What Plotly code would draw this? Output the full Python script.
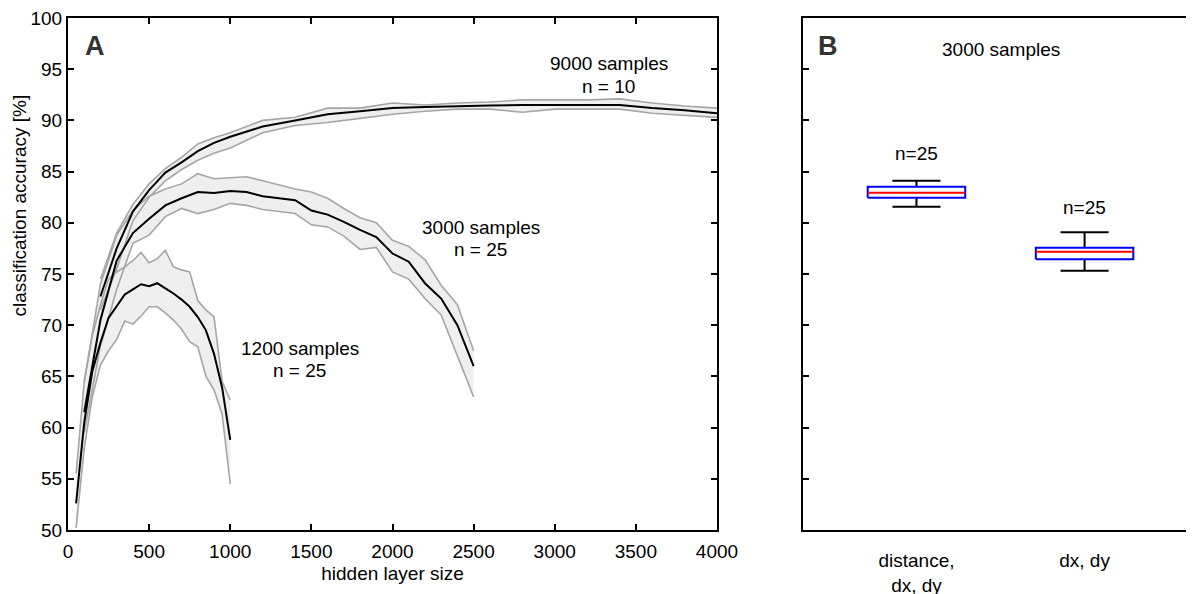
import plotly.graph_objects as go

# ---------------- Panel A data ----------------
x_1200 = [50, 100, 150, 200, 250, 300, 350, 400, 450, 500, 550, 600, 650, 700, 750, 800, 850, 900, 950, 1000]
mean_1200 = [52.6, 60.5, 65.5, 68.3, 70.7, 71.8, 73.0, 73.5, 74.0, 73.8, 74.1, 73.6, 73.1, 72.5, 71.8, 70.8, 69.5, 67.2, 63.9, 58.8]
upper_1200 = [55.5, 64.5, 69.0, 72.0, 74.5, 75.2, 75.7, 76.3, 77.1, 76.1, 76.5, 77.3, 75.7, 75.4, 75.2, 72.4, 71.5, 70.8, 64.5, 62.7]
lower_1200 = [50.2, 58.0, 63.0, 66.1, 67.5, 68.6, 70.4, 70.1, 70.9, 71.8, 71.8, 71.2, 70.5, 69.6, 68.4, 67.9, 65.0, 63.7, 61.3, 54.5]

x_3000 = [100, 200, 300, 400, 500, 600, 700, 800, 900, 1000, 1100, 1200, 1300, 1400, 1500,
          1600, 1700, 1800, 1900, 2000, 2100, 2200, 2300, 2400, 2500]
mean_3000 = [61.5, 70.5, 76.3, 79.0, 80.4, 81.7, 82.4, 83.0, 82.9, 83.1, 83.0, 82.6, 82.4, 82.2, 81.2,
             80.8, 80.1, 79.3, 78.6, 77.0, 76.2, 74.1, 72.6, 70.0, 66.0]
upper_3000 = [64.5, 74.0, 78.8, 81.2, 82.6, 83.3, 83.8, 84.8, 84.3, 84.4, 84.5, 84.1, 83.7, 83.3, 83.0,
              82.4, 81.4, 80.5, 80.0, 78.3, 77.7, 76.4, 73.9, 72.0, 67.5]
lower_3000 = [59.5, 68.0, 73.5, 78.0, 78.8, 80.6, 81.4, 80.9, 81.3, 81.9, 81.7, 81.3, 81.1, 80.9, 79.8,
              79.6, 78.7, 77.4, 77.6, 75.2, 74.5, 72.6, 71.0, 67.0, 63.0]

x_9000 = [200, 300, 400, 500, 600, 700, 800, 900, 1000, 1200, 1400, 1600, 1800, 2000, 2200, 2400,
          2600, 2800, 3000, 3200, 3400, 3600, 3800, 4000]
mean_9000 = [72.8, 77.5, 81.1, 83.2, 84.9, 85.9, 87.0, 87.8, 88.4, 89.4, 90.0, 90.6, 90.9, 91.2, 91.3, 91.4,
             91.45, 91.5, 91.5, 91.5, 91.5, 91.2, 91.0, 90.7]
upper_9000 = [74.5, 79.0, 81.8, 83.8, 85.3, 86.4, 87.7, 88.3, 88.8, 90.0, 90.3, 91.2, 91.2, 91.7, 91.5, 91.7,
              91.8, 92.0, 92.0, 92.0, 92.1, 91.7, 91.4, 91.2]
lower_9000 = [71.5, 75.5, 80.2, 82.5, 84.1, 85.2, 86.1, 86.8, 87.3, 88.8, 89.5, 89.8, 90.2, 90.6, 90.9, 91.1,
              91.1, 90.8, 91.1, 91.1, 91.1, 90.7, 90.5, 90.3]

x_ticks_a = [0, 500, 1000, 1500, 2000, 2500, 3000, 3500, 4000]
y_ticks = [50, 55, 60, 65, 70, 75, 80, 85, 90, 95, 100]

# ---------------- Panel B data ----------------
b_categories = ["distance,<br>dx, dy", "dx, dy"]
b_positions = [1, 2]
b_lower = [81.57, 75.32]
b_q1 = [82.45, 76.43]
b_median = [82.94, 77.18]
b_q3 = [83.53, 77.57]
b_upper = [84.10, 79.07]
b_n = ["n=25", "n=25"]

FONT = "Liberation Sans, Arial, Helvetica, sans-serif"
FILL = "#efefef"
EDGE = "#a6a6a6"

fig = go.Figure()

series = [
    (x_9000, mean_9000, upper_9000, lower_9000),
    (x_3000, mean_3000, upper_3000, lower_3000),
    (x_1200, mean_1200, upper_1200, lower_1200),
]

for xs, m, up, lo in series:
    fig.add_trace(go.Scatter(x=xs + xs[::-1], y=up + lo[::-1], fill="toself", fillcolor=FILL,
                             line=dict(width=0), mode="lines", hoverinfo="skip", showlegend=False,
                             xaxis="x", yaxis="y"))
for xs, m, up, lo in series:
    fig.add_trace(go.Scatter(x=xs, y=up, mode="lines", line=dict(color=EDGE, width=1.6),
                             showlegend=False, xaxis="x", yaxis="y"))
    fig.add_trace(go.Scatter(x=xs, y=lo, mode="lines", line=dict(color=EDGE, width=1.6),
                             showlegend=False, xaxis="x", yaxis="y"))
for xs, m, up, lo in series:
    fig.add_trace(go.Scatter(x=xs, y=m, mode="lines", line=dict(color="black", width=2),
                             showlegend=False, xaxis="x", yaxis="y"))

# ---------------- Panel B boxes ----------------
BOX_HALF = 0.29
CAP_HALF = 0.143
for p, lo, q1, med, q3, up in zip(b_positions, b_lower, b_q1, b_median, b_q3, b_upper):
    fig.add_trace(go.Scatter(
        x=[p, p, None, p - CAP_HALF, p + CAP_HALF, None, p, p, None, p - CAP_HALF, p + CAP_HALF],
        y=[q3, up, None, up, up, None, q1, lo, None, lo, lo],
        mode="lines", line=dict(color="black", width=2), showlegend=False, xaxis="x2", yaxis="y2"))
    fig.add_trace(go.Scatter(
        x=[p - BOX_HALF, p + BOX_HALF, p + BOX_HALF, p - BOX_HALF, p - BOX_HALF],
        y=[q1, q1, q3, q3, q1], mode="lines", line=dict(color="#0000ff", width=2),
        showlegend=False, xaxis="x2", yaxis="y2"))
    fig.add_trace(go.Scatter(
        x=[p - BOX_HALF, p + BOX_HALF], y=[med, med], mode="lines",
        line=dict(color="#ff0000", width=2), showlegend=False, xaxis="x2", yaxis="y2"))

# the page body adds an 8px margin, so the figure is drawn 8px smaller and shifted
OFF = 8
W, H = 1194 - OFF, 594 - OFF
ydom = [1 - (530 - OFF) / H, 1 - (18 - OFF) / H]

axis_common = dict(showline=True, linecolor="black", linewidth=2, mirror="ticks", ticks="inside",
                   ticklen=6, tickwidth=1.5, tickcolor="black", showgrid=False, zeroline=False,
                   tickfont=dict(family=FONT, size=19, color="black"), automargin=False,
                   ticklabeloverflow="allow")

fig.update_layout(
    width=W, height=H,
    margin=dict(l=0, r=0, t=0, b=0),
    paper_bgcolor="white", plot_bgcolor="white",
    font=dict(family=FONT, size=19, color="black"),
    xaxis=dict(domain=[(68 - OFF) / W, (717 - OFF) / W], range=[0, 4000], tickvals=x_ticks_a,
               anchor="y", ticklabelstandoff=3,
               title=dict(text="hidden layer size", standoff=6, font=dict(size=19)),
               **axis_common),
    yaxis=dict(domain=ydom, range=[50, 100], tickvals=y_ticks, anchor="x", **axis_common),
    xaxis2=dict(domain=[(803 - OFF) / W, (1193 - OFF) / W], range=[0.325, 2.645], tickvals=b_positions,
                ticktext=b_categories, anchor="y2", ticklabelstandoff=12,
                **{**axis_common, "ticks": ""}),
    yaxis2=dict(domain=ydom, range=[50, 100], tickvals=y_ticks, anchor="x2", showticklabels=False,
                **axis_common),
)

ann = [
    dict(text="9000 samples", x=3334, y=95.6, xref="x", yref="y"),
    dict(text="n = 10", x=3334, y=93.3, xref="x", yref="y"),
    dict(text="3000 samples", x=2545, y=79.5, xref="x", yref="y"),
    dict(text="n = 25", x=2545, y=77.35, xref="x", yref="y"),
    dict(text="1200 samples", x=1430, y=67.7, xref="x", yref="y"),
    dict(text="n = 25", x=1424, y=65.6, xref="x", yref="y"),
    dict(text="<b>A</b>", x=169, y=97.3, xref="x", yref="y", font=dict(size=27, color="#333333")),
    dict(text="<b>B</b>", x=0.474, y=97.3, xref="x2", yref="y2", font=dict(size=27, color="#333333")),
    dict(text="3000 samples", x=1.503, y=96.97, xref="x2", yref="y2"),
    dict(text=b_n[0], x=b_positions[0], y=86.8, xref="x2", yref="y2"),
    dict(text=b_n[1], x=b_positions[1], y=81.45, xref="x2", yref="y2"),
    dict(text="classification accuracy [%]", x=0, y=1 - (206 - OFF) / H,
         xref="paper", yref="paper", textangle=-90, xanchor="left", borderpad=0),
]
for a in ann:
    a.setdefault("font", dict(size=19))
    a["font"].setdefault("family", FONT)
    a["font"].setdefault("color", "black")
    a.setdefault("xanchor", "center")
    fig.add_annotation(showarrow=False, yanchor="middle", **a)

fig.write_html("out.html")
